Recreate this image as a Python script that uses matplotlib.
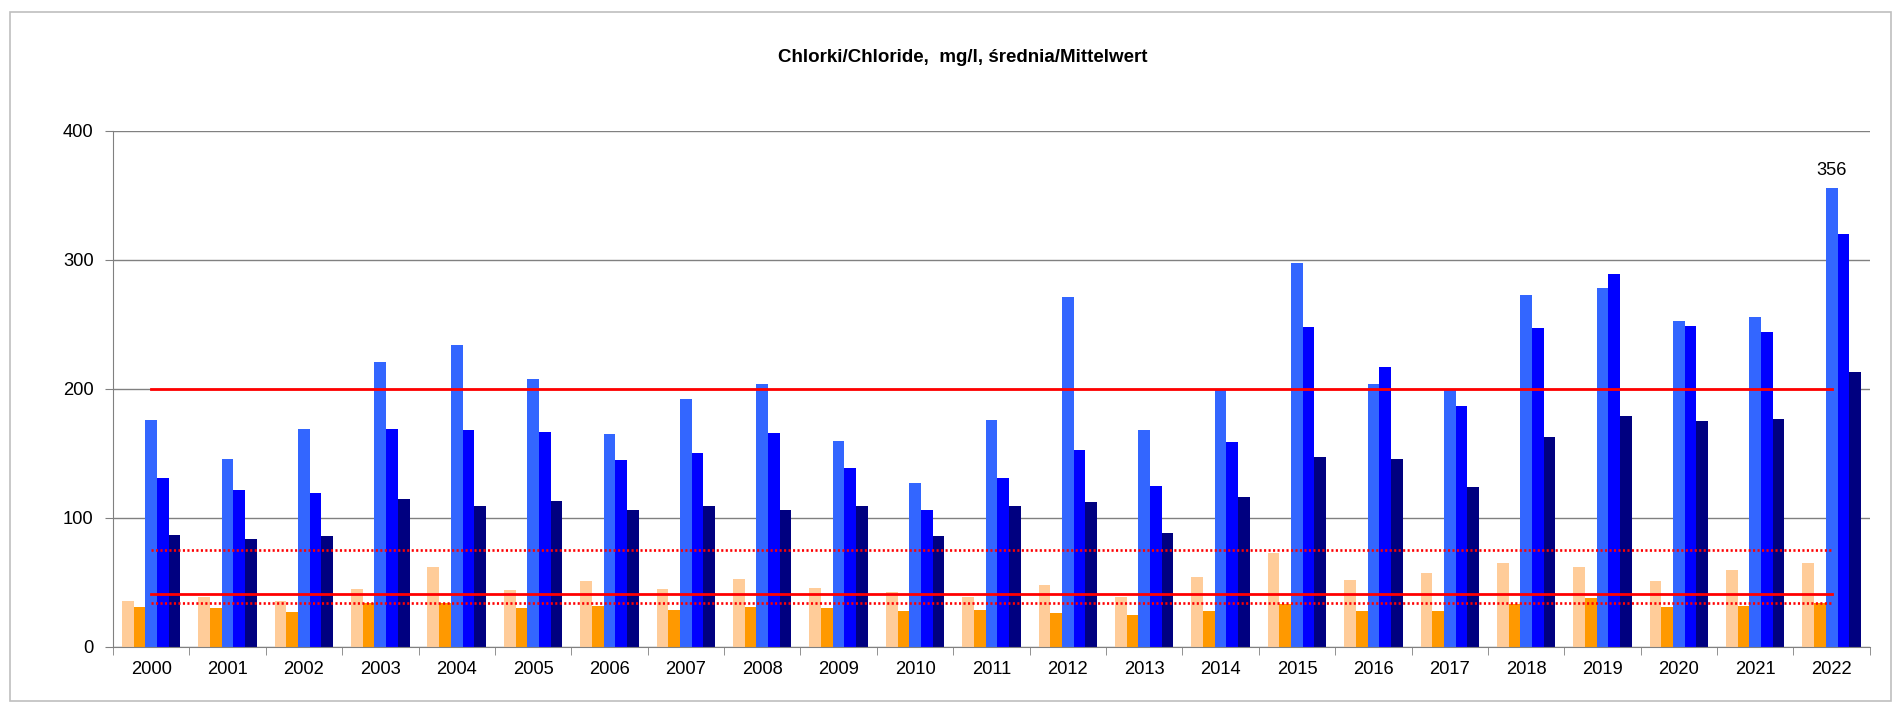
import numpy as np
import matplotlib.pyplot as plt
from matplotlib.patches import Rectangle

plt.rcParams['font.family'] = ['Liberation Sans', 'DejaVu Sans']

years = [str(y) for y in range(2000, 2023)]

# five measuring series per year, mg/l
s_peach = [36, 39, 36, 45, 62, 44, 51, 45, 53, 46, 43, 39, 48, 39, 54, 73, 52, 57, 65, 62, 51, 60, 65]
s_orange = [31, 30, 27, 34, 34, 30, 32, 29, 31, 30, 28, 29, 26, 25, 28, 33, 28, 28, 33, 38, 31, 32, 34]
s_lblue = [176, 146, 169, 221, 234, 208, 165, 192, 204, 160, 127, 176, 271, 168, 199, 298, 204, 200, 273, 278, 253, 256, 356]
s_blue = [131, 122, 119, 169, 168, 167, 145, 150, 166, 139, 106, 131, 153, 125, 159, 248, 217, 187, 247, 289, 249, 244, 320]
s_navy = [87, 84, 86, 115, 109, 113, 106, 109, 106, 109, 86, 109, 112, 88, 116, 147, 146, 124, 163, 179, 175, 177, 213]

# limit values drawn as horizontal lines
limits_solid = [200, 41]
limits_dotted = [75, 34]

series = [s_peach, s_orange, s_lblue, s_blue, s_navy]
colors = ['#FFCC99', '#FF9900', '#3366FF', '#0000FF', '#000080']

fig = plt.figure(figsize=(19.02, 7.13), dpi=100)
ax = fig.add_axes([0.0594, 0.0926, 0.9237, 0.7237])

x = np.arange(len(years))
w = 0.153
for k, (vals, c) in enumerate(zip(series, colors)):
    ax.bar(x + (k - 2) * w, vals, width=w, color=c, zorder=2)

for v in limits_solid:
    ax.plot([x[0], x[-1]], [v, v], color='#FF0000', lw=2.0, zorder=3)
for v in limits_dotted:
    ax.plot([x[0], x[-1]], [v, v], color='#FF0000', lw=1.9, ls=(0, (0.8, 0.9)), zorder=3)

# value label for the maximum
imax = int(np.argmax(s_lblue))
ax.text(x[imax], s_lblue[imax] + 7, str(s_lblue[imax]), ha='center', va='bottom', fontsize=13.2)

ax.set_xlim(-0.5, len(years) - 0.5)
ax.set_ylim(0, 400)
ax.set_yticks([0, 100, 200, 300, 400])
ax.yaxis.grid(True, color='#808080', lw=1.0, zorder=0)
ax.set_axisbelow(True)

ax.set_xticks(x)
ax.set_xticklabels(years)
ax.set_xticks(np.arange(len(years) + 1) - 0.5, minor=True)
ax.tick_params(axis='x', which='major', length=0, pad=10, labelsize=13.2)
ax.tick_params(axis='x', which='minor', length=6, color='#808080', direction='out')
ax.tick_params(axis='y', length=6, color='#808080', labelsize=13.2, pad=8)

for side in ['top', 'right']:
    ax.spines[side].set_visible(False)
for side in ['left', 'bottom']:
    ax.spines[side].set_color('#808080')

fig.text(0.506, 0.92, 'Chlorki/Chloride,  mg/l, średnia/Mittelwert', ha='center', va='center',
         fontsize=13.5, fontweight='bold')

# light frame around the whole chart
fig.patches.append(Rectangle((10 / 1902, 12 / 713), 1881 / 1902, 689 / 713, transform=fig.transFigure,
                             fill=False, edgecolor='#BFBFBF', lw=1.2))

fig.savefig('out.png', dpi=100, facecolor='white')
